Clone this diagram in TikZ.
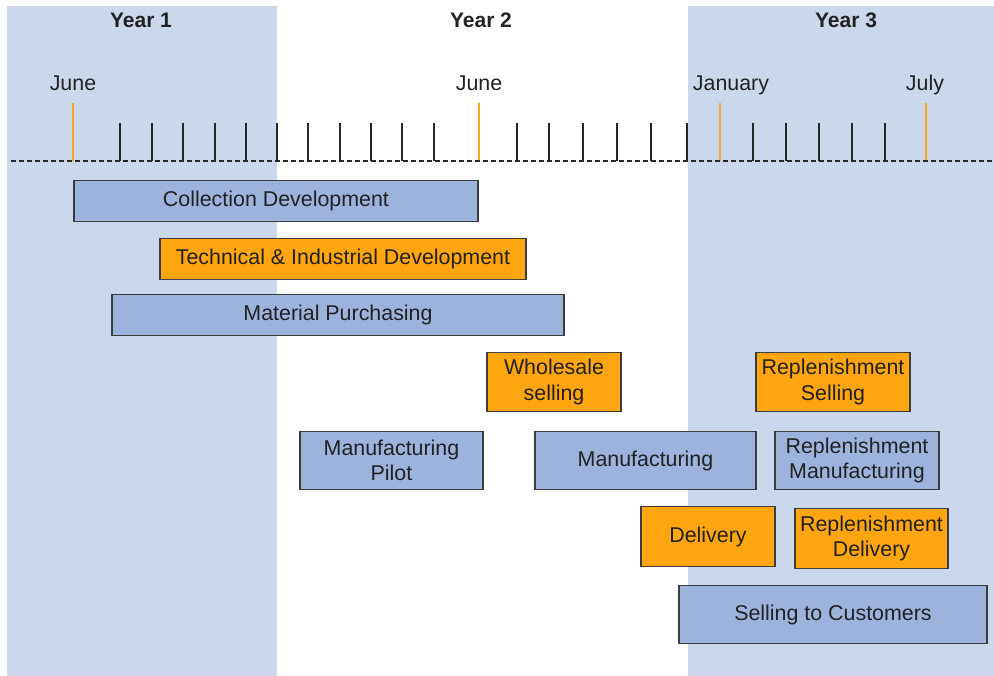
\documentclass[tikz,border=0pt]{standalone}
\usepackage{fontspec}
\setmainfont{Liberation Sans}
\usetikzlibrary{positioning}
\definecolor{paneblue}{HTML}{CBD8EB}
\definecolor{boxblue}{HTML}{9DB3DB}
\definecolor{boxorange}{HTML}{FFA510}
\definecolor{tickorange}{HTML}{F5A623}
\definecolor{edgegray}{HTML}{3C3C3C}
\definecolor{textgray}{HTML}{222222}
\tikzset{
        taskbox/.style={align=center, inner sep=0pt, rectangle, draw=edgegray, line width=1.8pt, text=textgray, font=\fontsize{21.4}{25.5}\selectfont},
        % Blue tasks
        task_blue/.style={taskbox, fill=boxblue},
        % Orange tasks
        task_orange/.style={taskbox, fill=boxorange},
        % Year headings
        year_label/.style={font=\bfseries\fontsize{21}{25}\selectfont, text=textgray, anchor=base},
        % Month labels
        month_label/.style={font=\fontsize{21.4}{25}\selectfont, text=textgray, anchor=base},
        % Monthly ticks
        tick_month/.style={line width=2pt, black!85},
        % Highlighted month ticks
        tick_key/.style={line width=2.2pt, tickorange}
}
\begin{document}
\begin{tikzpicture}[x=1pt, y=-1pt]
            \useasboundingbox (0,0) rectangle (994,676);
            % year panels
            \fill[paneblue] (7,6) rectangle (277,676);
            \fill[paneblue] (688,6) rectangle (994,676);
            \node[year_label] (year1) at (141,28) {Year 1};
            \node[year_label] (year2) at (481,28) {Year 2};
            \node[year_label] (year3) at (846,28) {Year 3};
            % time axis
            \node[month_label] (june1) at (73,90.5) {June};
            \node[month_label] (june2) at (479,90.5) {June};
            \node[month_label] (january) at (731,90.5) {January};
            \node[month_label] (july) at (925,90.5) {July};
            \foreach \x in {120,152,183,215,246,277,308,340,371,402,434,517,549,583,617,651,687,753,786,819,852,885}
                \draw[tick_month] (\x,123) -- (\x,161);
            \foreach \x in {73,479,720,926}
                \draw[tick_key] (\x,103) -- (\x,161);
            \coordinate (axis_start) at (11,161);
            \coordinate (axis_end) at (994,161);
            \draw[line width=1.6pt, black!85, dash pattern=on 5pt off 3pt] (axis_start) -- (axis_end);
            % tasks
            \node[task_blue, minimum width=404pt, minimum height=41pt] (collection) at (276,201) {Collection Development};
            \node[task_orange, minimum width=366pt, minimum height=41pt] (technical) at (343,259) {Technical \& Industrial Development};
            \node[task_blue, minimum width=452pt, minimum height=41pt] (material) at (338,315) {Material Purchasing};
            \node[task_orange, minimum width=134pt, minimum height=59pt] (wholesale) at (554,382) {Wholesale\\selling};
            \node[task_orange, minimum width=154pt, minimum height=59pt] (repl_selling) at (833,382) {Replenishment\\Selling};
            \node[task_blue, minimum width=183pt, minimum height=58pt] (pilot) at (391.5,460.5) {Manufacturing\\Pilot};
            \node[task_blue, minimum width=221pt, minimum height=58pt] (manufacturing) at (645.5,460.5) {Manufacturing};
            \node[task_blue, minimum width=164pt, minimum height=58pt] (repl_manufacturing) at (857,460.5) {Replenishment\\Manufacturing};
            \node[task_orange, minimum width=134pt, minimum height=60pt] (delivery) at (708,536.5) {Delivery};
            \node[task_orange, minimum width=153pt, minimum height=60pt] (repl_delivery) at (871.5,538.5) {Replenishment\\Delivery};
            \node[task_blue, minimum width=308pt, minimum height=58pt] (selling) at (833,614.5) {Selling to Customers};
\end{tikzpicture}
\end{document}
